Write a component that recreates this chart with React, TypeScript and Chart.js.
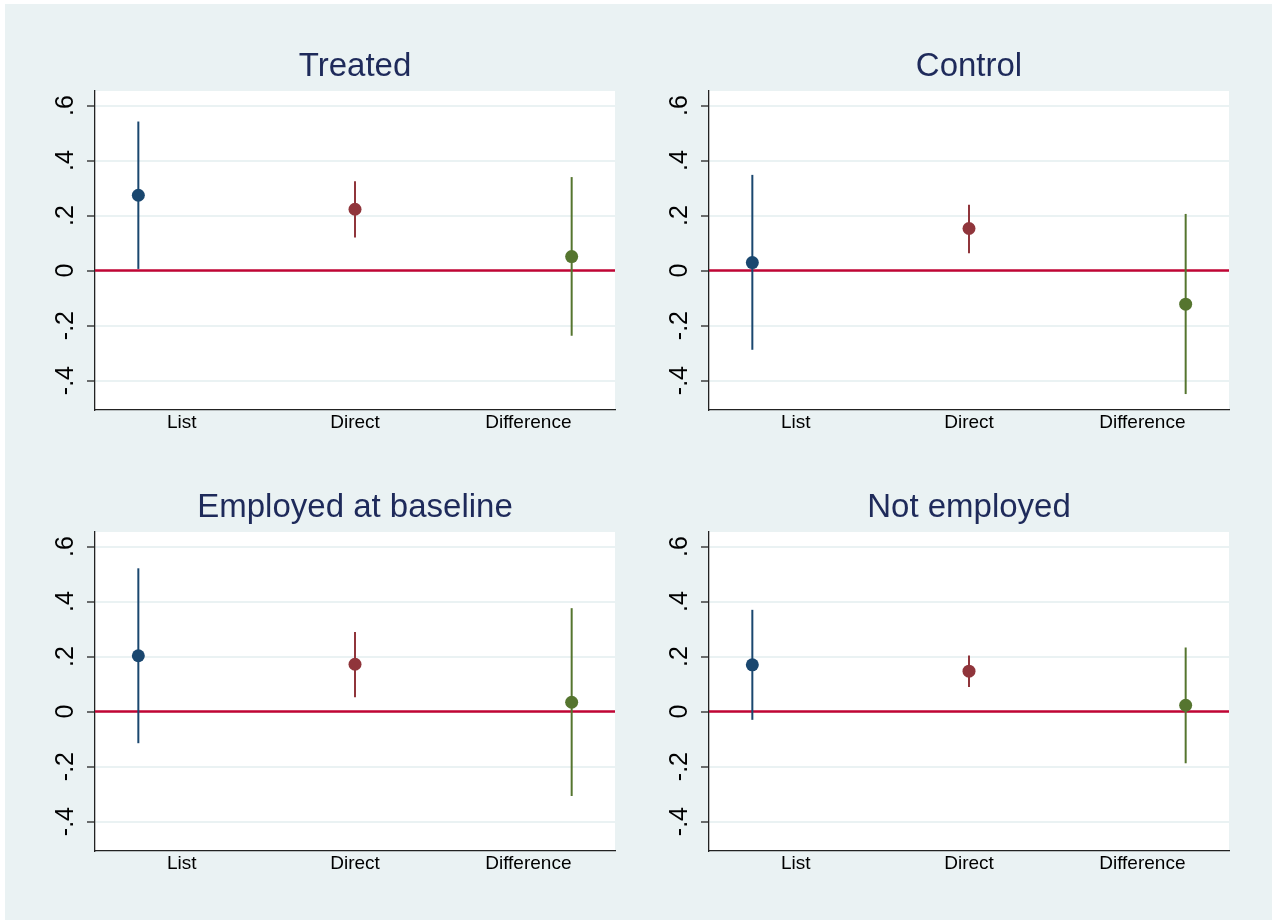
import React, { useEffect, useRef } from 'react';
import { Chart, registerables } from 'chart.js';

Chart.register(...registerables);

// ---- Data ----
const categories = ['List', 'Direct', 'Difference'];
const xPositions = [1, 2, 3];
const xLabelPositions = [1.2, 2, 2.8];
const panelTitles = ['Treated', 'Control', 'Employed at baseline', 'Not employed'];

const treatedEst = [0.274, 0.223, 0.051];
const treatedLo = [0.006, 0.12, -0.237];
const treatedHi = [0.542, 0.325, 0.34];

const controlEst = [0.029, 0.153, -0.122];
const controlLo = [-0.288, 0.063, -0.449];
const controlHi = [0.348, 0.239, 0.206];

const employedEst = [0.203, 0.172, 0.034];
const employedLo = [-0.115, 0.052, -0.307];
const employedHi = [0.521, 0.289, 0.376];

const notEmployedEst = [0.17, 0.147, 0.023];
const notEmployedLo = [-0.03, 0.089, -0.188];
const notEmployedHi = [0.37, 0.204, 0.233];

const yTicks = [-0.4, -0.2, 0, 0.2, 0.4, 0.6];
const yTickLabels = ['-.4', '-.2', '0', '.2', '.4', '.6'];
const refValue = 0;

// ---- Axis ranges & styles ----
const xMin = 0.8;
const xMax = 3.2;
const yMin = -0.507;
const yMax = 0.653;

const seriesColors = ['#1A476F', '#90353B', '#55752F'];
const refColor = '#C10534';
const bgColor = '#EAF2F3';
const gridColor = '#EAF2F3';
const axisColor = '#222222';
const titleColor = '#1E2A5A';
const fontFamily = "'Liberation Sans', Arial, Helvetica, sans-serif";

const CANVAS_W = 615;
const CANVAS_H = 440;

const panelData = [
  { est: treatedEst, lo: treatedLo, hi: treatedHi },
  { est: controlEst, lo: controlLo, hi: controlHi },
  { est: employedEst, lo: employedLo, hi: employedHi },
  { est: notEmployedEst, lo: notEmployedLo, hi: notEmployedHi },
];
const panelPos = [
  { left: 30, top: 30 },
  { left: 644, top: 30 },
  { left: 30, top: 471 },
  { left: 644, top: 471 },
];

const panelPlugin = {
  id: 'panelDecor',
  beforeDraw(chart: any) {
    const { ctx, chartArea } = chart;
    if (!chartArea) return;
    ctx.save();
    ctx.fillStyle = '#ffffff';
    ctx.fillRect(chartArea.left, chartArea.top, chartArea.right - chartArea.left, chartArea.bottom - chartArea.top);
    ctx.restore();
  },
  beforeDatasetsDraw(chart: any) {
    const { ctx, chartArea } = chart;
    const y = chart.scales.y.getPixelForValue(refValue);
    ctx.save();
    ctx.beginPath();
    ctx.strokeStyle = refColor;
    ctx.lineWidth = 2.5;
    ctx.moveTo(chartArea.left, y);
    ctx.lineTo(chartArea.right, y);
    ctx.stroke();
    ctx.restore();
  },
  afterDraw(chart: any, _args: any, opts: any) {
    const { ctx, chartArea } = chart;
    ctx.save();
    ctx.fillStyle = titleColor;
    ctx.font = `normal 33px ${fontFamily}`;
    ctx.textAlign = 'center';
    ctx.textBaseline = 'middle';
    ctx.fillText(opts.text, (chartArea.left + chartArea.right) / 2, chartArea.top - 24);
    ctx.restore();
  },
};

function Panel({ title, est, lo, hi, left, top }: any) {
  const ref = useRef<HTMLCanvasElement>(null);
  useEffect(() => {
    if (!ref.current) return;
    const datasets: any[] = [];
    categories.forEach((c, i) => {
      datasets.push({
        label: c,
        data: [{ x: xPositions[i], y: est[i] }],
        pointRadius: 6.5,
        pointHoverRadius: 6.5,
        pointBackgroundColor: seriesColors[i],
        backgroundColor: seriesColors[i],
        pointBorderWidth: 0,
        borderWidth: 0,
        order: 0,
      });
    });
    categories.forEach((c, i) => {
      datasets.push({
        label: c + ' CI',
        data: [
          { x: xPositions[i], y: lo[i] },
          { x: xPositions[i], y: hi[i] },
        ],
        showLine: true,
        borderColor: seriesColors[i],
        borderWidth: 2,
        pointRadius: 0,
        pointHoverRadius: 0,
        order: 1,
      });
    });
    const chart = new Chart(ref.current, {
      type: 'scatter',
      data: { datasets },
      options: {
        responsive: false,
        animation: false,
        events: [],
        layout: { padding: { left: 0, right: 30, top: 61, bottom: 0 } },
        plugins: {
          legend: { display: false },
          tooltip: { enabled: false },
          title: { display: false },
          panelDecor: { text: title },
        },
        scales: {
          x: {
            type: 'linear',
            min: xMin,
            max: xMax,
            afterBuildTicks: (s: any) => {
              s.ticks = xLabelPositions.map((v) => ({ value: v }));
            },
            afterFit: (s: any) => {
              s.height = 60;
            },
            grid: { display: false, drawTicks: false },
            border: { display: true, color: axisColor, width: 1.3 },
            ticks: {
              autoSkip: false,
              minRotation: 0,
              maxRotation: 0,
              padding: 1,
              color: '#000',
              font: { size: 19, family: fontFamily },
              callback: (_v: any, i: number) => categories[i],
            },
          },
          y: {
            type: 'linear',
            min: yMin,
            max: yMax,
            afterBuildTicks: (s: any) => {
              s.ticks = yTicks.map((v) => ({ value: v }));
            },
            afterFit: (s: any) => {
              s.width = 65;
            },
            grid: {
              color: gridColor,
              lineWidth: 2,
              drawTicks: true,
              tickLength: 8,
              tickColor: axisColor,
              tickWidth: 1.3,
            },
            border: { display: true, color: axisColor, width: 1.3 },
            ticks: {
              autoSkip: false,
              minRotation: 90,
              maxRotation: 90,
              crossAlign: 'center',
              padding: 6,
              color: '#000',
              font: { size: 25, family: fontFamily },
              callback: (_v: any, i: number) => yTickLabels[i],
            },
          },
        },
      } as any,
      plugins: [panelPlugin],
    });
    return () => chart.destroy();
  }, []);
  return (
    <canvas
      ref={ref}
      width={CANVAS_W}
      height={CANVAS_H}
      style={{ position: 'absolute', left, top, width: CANVAS_W, height: CANVAS_H }}
    />
  );
}

export default function App() {
  return (
    <div style={{ position: 'absolute', left: 0, top: 0, width: 1277, height: 923, background: '#ffffff', overflow: 'hidden' }}>
      <div style={{ position: 'absolute', left: 5, top: 4, width: 1267, height: 916, background: bgColor }} />
      {panelData.map((p, i) => (
        <Panel key={i} title={panelTitles[i]} est={p.est} lo={p.lo} hi={p.hi} left={panelPos[i].left} top={panelPos[i].top} />
      ))}
    </div>
  );
}
